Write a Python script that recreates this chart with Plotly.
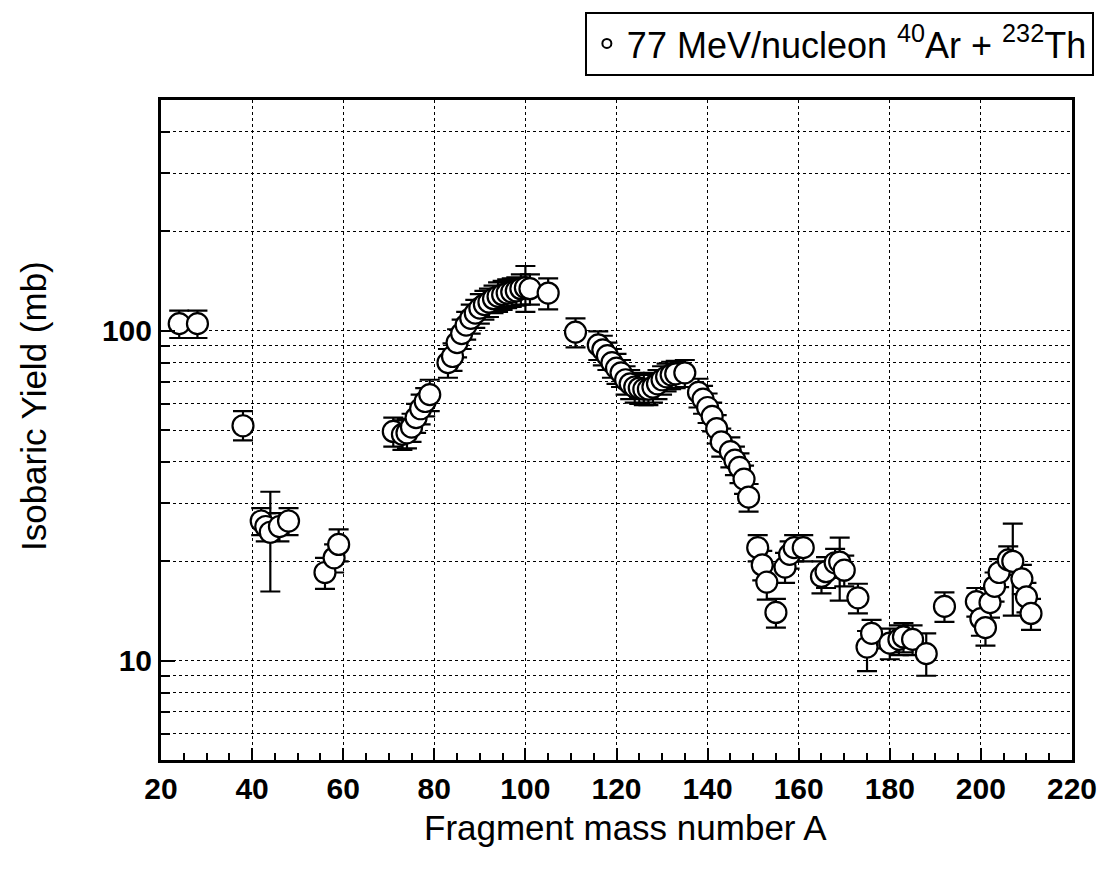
import plotly.graph_objects as go

# Fragment mass number A
mass_number = [24, 28, 38, 42, 43, 44, 46, 48, 56, 58, 59,
               71, 73, 74, 75, 76, 77, 78, 79,
               83, 84, 85, 86, 87, 88, 89, 90, 91, 92, 93, 94, 95, 96, 97, 98, 99, 100, 101, 105,
               111, 116, 117, 118, 119, 120, 121, 122, 123, 124, 125, 126, 127, 128, 129, 130, 131, 132, 133, 135,
               138, 139, 140, 141, 142, 143, 145, 146, 147, 148, 149,
               151, 152, 153, 155, 157, 158, 159, 161, 165, 166, 168, 169, 170, 173,
               175, 176, 180, 182, 183, 185, 188, 192,
               199, 200, 201, 202, 203, 204, 206, 207, 209, 210, 211]
# Isobaric yield (mb)
yield_mb = [105, 105, 51.5, 26.5, 25.5, 24.5, 25.5, 26.5, 18.5, 20.5, 22.5,
            49.5, 48.5, 49, 51, 54.5, 58, 61, 64,
            80, 83.5, 92, 98, 104, 109, 113, 117, 120, 122, 125, 127, 128.5, 130, 131, 132, 134, 135, 134, 130,
            99, 90.5, 87.5, 84, 80, 77, 74.5, 71, 69, 67.5, 67, 66.5, 66.5, 67.5, 69, 71, 72.5, 73.5, 74, 74.5,
            65, 62, 58.5, 55, 50.5, 46, 43, 40.5, 38.5, 35.5, 31.3,
            22, 19.5, 17.3, 14, 19.2, 21, 22, 22, 18, 18.6, 19.8, 19.9, 18.8, 15.5,
            11, 12.1, 11.3, 11.6, 11.8, 11.6, 10.5, 14.6,
            15.1, 13.4, 12.6, 15, 16.8, 18.5, 20.2, 20, 17.7, 15.6, 13.9]
# Upper / lower errors (mb)
err_plus = [10, 10, 5.5, 2.5, 2.5, 8, 2.5, 2.5, 2, 2, 2.5,
            5, 5, 5, 5, 5.5, 6, 6, 7,
            8, 8, 9, 10, 10, 11, 11, 12, 12, 12, 12, 13, 13, 13, 13, 13, 14, 22, 14, 14,
            10, 9, 9, 8, 8, 8, 7, 7, 7, 7, 7, 7, 7, 7, 7, 7, 7, 7, 7, 7,
            6.5, 6, 6, 5.5, 5, 4.5, 4.5, 4, 4, 3.5, 3,
            2, 2, 2, 1.4, 2, 2, 2, 2, 2, 2, 2, 3.7, 2, 1.6,
            1.3, 1.2, 1.2, 1.2, 1.2, 1.2, 1.6, 1.5,
            1.5, 1.5, 1.5, 1.5, 1.7, 1.8, 2, 6, 1.8, 1.6, 1.5]
err_minus = [10, 10, 5, 2.5, 2.5, 8.3, 2.5, 2.5, 2, 2, 2.5,
             5, 5, 5, 5, 5.5, 6, 6, 7,
             8, 8, 9, 10, 10, 11, 11, 12, 12, 12, 12, 13, 13, 13, 13, 13, 14, 21, 14, 14,
             10, 9, 9, 8, 8, 8, 7, 7, 7, 7, 7, 7, 7, 7, 7, 7, 7, 7, 7, 7,
             6.5, 6, 6, 5.5, 5, 4.5, 4.5, 4, 4, 3.5, 3,
             2, 2, 2, 1.4, 2, 2, 2, 2, 2, 2, 2, 4.7, 2, 1.6,
             1.7, 1.2, 1.2, 1.2, 1.2, 1.2, 1.5, 1.5,
             1.5, 1.5, 1.5, 1.5, 1.7, 1.8, 2, 6.3, 1.8, 1.6, 1.5]

x_ticks = [20, 40, 60, 80, 100, 120, 140, 160, 180, 200, 220]
y_major = [10, 100]
y_minor = [6, 7, 8, 9, 20, 30, 40, 50, 60, 70, 80, 90, 200, 300, 400]

FONT = "Liberation Sans, Arial, Helvetica, sans-serif"

fig = go.Figure()
fig.add_trace(go.Scatter(
    x=mass_number, y=yield_mb, mode="markers", showlegend=False,
    marker=dict(symbol="circle", size=21, color="white",
                line=dict(color="black", width=2.2)),
    error_y=dict(type="data", symmetric=False, array=err_plus, arrayminus=err_minus,
                 color="black", thickness=2.2, width=10),
))
# legend entry
fig.add_trace(go.Scatter(
    x=[None], y=[None], mode="markers", showlegend=True,
    name="77 MeV/nucleon <sup>40</sup>Ar + <sup>232</sup>Th",
    marker=dict(symbol="circle", size=9, color="white",
                line=dict(color="black", width=2)),
))

fig.update_layout(
    width=1109, height=876,
    margin=dict(l=161, r=31, t=98, b=116),
    paper_bgcolor="white", plot_bgcolor="white",
    font=dict(family=FONT, color="black"),
    legend=dict(
        x=1.024, xanchor="right", y=1.134, yanchor="top",
        bordercolor="black", borderwidth=2, bgcolor="white",
        font=dict(size=36, family=FONT, color="black"),
        itemsizing="trace", itemwidth=30,
    ),
    annotations=[
        dict(text="Fragment mass number A", xref="paper", yref="paper",
             x=0.510, y=-0.103, xanchor="center", yanchor="middle", showarrow=False,
             font=dict(size=35, family=FONT, color="black")),
        dict(text="Isobaric Yield (mb)", xref="paper", yref="paper",
             x=-0.1407, y=0.536, xanchor="center", yanchor="middle", showarrow=False,
             textangle=-90, font=dict(size=35, family=FONT, color="black")),
    ],
)

fig.update_xaxes(
    range=[20, 220], tickvals=x_ticks,
    showline=True, linecolor="black", linewidth=3, mirror=True,
    ticks="inside", ticklen=12, tickwidth=2, tickcolor="black",
    tickfont=dict(size=30, family=FONT, color="black", weight="bold"),
    showgrid=True, gridcolor="black", gridwidth=1, griddash="dot",
    minor=dict(dtick=5, ticks="inside", ticklen=7, tickwidth=2, tickcolor="black", showgrid=False),
    zeroline=False,
)
fig.update_yaxes(
    type="log", range=[0.69897, 2.69897],
    tickmode="array", tickvals=y_major,
    showline=True, linecolor="black", linewidth=3, mirror=True,
    ticks="inside", ticklen=14, tickwidth=2, tickcolor="black",
    tickfont=dict(size=30, family=FONT, color="black", weight="bold"),
    showgrid=True, gridcolor="black", gridwidth=1, griddash="dot",
    minor=dict(tickmode="array", tickvals=y_minor, ticks="inside", ticklen=9, tickwidth=2,
               tickcolor="black", showgrid=True, gridcolor="black", gridwidth=1, griddash="dot"),
    zeroline=False,
)

fig.write_html("out.html")
